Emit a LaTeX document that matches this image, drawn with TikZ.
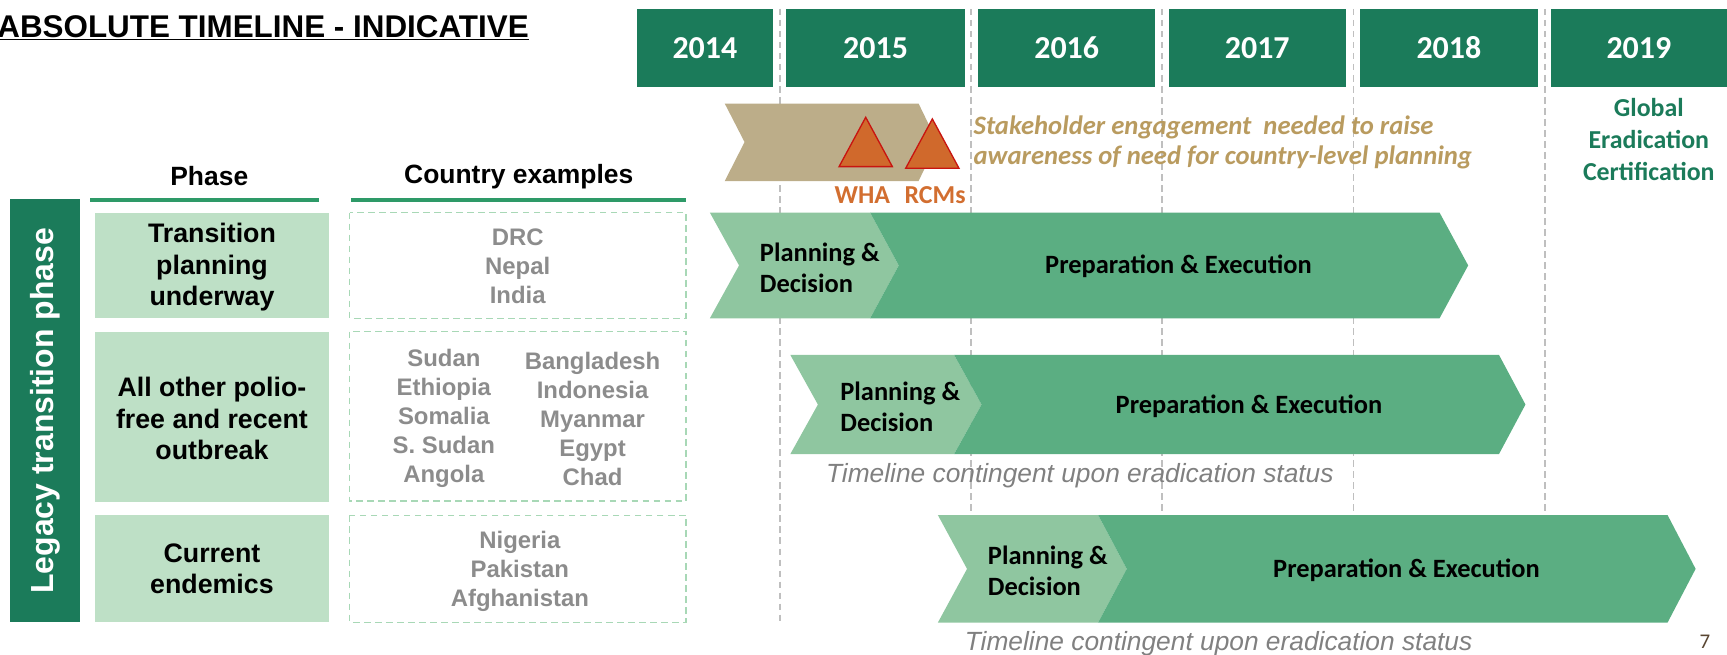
\documentclass[tikz,border=0pt]{standalone}
\usepackage{fontspec}
\setmainfont{Liberation Sans}
\newfontfamily\calfont{Carlito}
\newcommand\setfs[2]{\fontsize{#1}{#2}\selectfont}
\definecolor{dkgreen}{RGB}{27,123,90}
\definecolor{hdrgreen}{RGB}{46,154,104}
\definecolor{phasefill}{RGB}{190,224,198}
\definecolor{ctryborder}{RGB}{168,216,182}
\definecolor{chevlight}{RGB}{143,198,160}
\definecolor{chevdark}{RGB}{91,174,130}
\definecolor{tanfill}{RGB}{188,173,137}
\definecolor{trifill}{RGB}{208,105,44}
\definecolor{tristroke}{RGB}{200,20,16}
\definecolor{orangetxt}{RGB}{210,110,48}
\definecolor{goldtxt}{RGB}{185,155,95}
\definecolor{ctrygray}{RGB}{140,140,140}
\definecolor{italgray}{RGB}{128,128,128}
\definecolor{vlinegray}{RGB}{191,191,191}
\definecolor{pagebrown}{RGB}{89,70,50}
\begin{document}
\begin{tikzpicture}[x=1pt,y=-1pt,
  every node/.style={inner sep=0pt, outer sep=0pt},
  year/.style={text=white, font=\calfont\bfseries\setfs{29}{34}},
  vline/.style={draw=vlinegray, line width=1.4pt, dash pattern=on 6pt off 4pt},
  hdr/.style={font=\bfseries\setfs{24}{28}},
  hdrbar/.style={draw=hdrgreen, line width=3.2pt},
  phasebox/.style={fill=phasefill},
  phasetxt/.style={font=\bfseries\setfs{24.3}{28.6}, align=center},
  ctrytxt/.style={text=ctrygray, font=\bfseries\setfs{21.7}{26.3}, align=center},
  ctrybox/.style={draw=ctryborder, line width=1.2pt, dash pattern=on 6pt off 4pt},
  pdtxt/.style={font=\calfont\bfseries\setfs{24}{28.5}, align=left, anchor=west},
  petxt/.style={font=\calfont\bfseries\setfs{24}{28}},
  italtxt/.style={text=italgray, font=\itshape\setfs{23.9}{28}, anchor=west},
  tri/.style={fill=trifill, draw=tristroke, line width=1.2pt, line join=miter},
  milestone/.style={text=orangetxt, font=\calfont\bfseries\setfs{23.5}{26}}
]
\useasboundingbox (0,0) rectangle (1568,594);

% title
\node[font=\bfseries\setfs{28.5}{34}, anchor=base east] (title) at (480,34) {\underline{ABSOLUTE TIMELINE - INDICATIVE}};

% dashed year separators
\foreach \xx in {708,881.5,1055,1229,1402.5}
  \draw[vline] (\xx,8) -- (\xx,565);

% year boxes
\path[fill=dkgreen] (578,8) rectangle (702,79) node[midway, year] (y14) {2014};
\path[fill=dkgreen] (714,8) rectangle (876,79) node[midway, year] (y15) {2015};
\path[fill=dkgreen] (888,8) rectangle (1049,79) node[midway, year] (y16) {2016};
\path[fill=dkgreen] (1061,8) rectangle (1222,79) node[midway, year] (y17) {2017};
\path[fill=dkgreen] (1235,8) rectangle (1396,79) node[midway, year] (y18) {2018};
\path[fill=dkgreen] (1408,8) rectangle (1568,79) node[midway, year] (y19) {2019};

% stakeholder chevron
\fill[tanfill] (658,94) -- (834,94) -- (851,129) -- (834,164.4) -- (658,164.4) -- (676,129) -- cycle;
\draw[tri] (786,106.5) -- (810.2,151.3) -- (761.8,151.3) -- cycle;
\draw[tri] (846.5,108) -- (870.7,152.8) -- (822.3,152.8) -- cycle;
\node[milestone] (wha) at (783,177) {WHA};
\node[milestone] (rcm) at (849,177) {RCMs};
\node[text=goldtxt, font=\calfont\bfseries\itshape\setfs{24.2}{27.5}, align=left, anchor=west] (stake) at (884,129.5)
  {Stakeholder engagement~ needed to raise\\awareness of need for country-level planning};
\node[text=dkgreen, font=\calfont\bfseries\setfs{23.5}{29}, align=center] (cert) at (1497,127)
  {Global\\Eradication\\Certification};

% headers
\node[hdr] (hphase) at (190,160) {Phase};
\node[hdr] (hctry) at (471,160) {Country examples};
\draw[hdrbar] (82,181.5) -- (290,181.5);
\draw[hdrbar] (319,181.5) -- (623,181.5);

% legacy bar
\fill[dkgreen] (9,181) rectangle (72.6,565);
\node[rotate=90, text=white, font=\bfseries\setfs{29}{34}] (legacy) at (41,373) {Legacy transition phase};

% phase boxes
\path[phasebox] (86.5,193) rectangle (298.4,289) node[midway, phasetxt, yshift=-1.5pt] (p1) {Transition\\planning\\underway};
\path[phasebox] (86.5,301) rectangle (298.4,456) node[midway, phasetxt, yshift=-1.5pt] (p2) {All other polio-\\free and recent\\outbreak};
\path[phasebox] (86.5,468) rectangle (298.4,565) node[midway, phasetxt] (p3) {Current\\endemics};

% country boxes
\draw[ctrybox] (317.4,193) rectangle (622.9,289);
\draw[ctrybox] (317.4,301) rectangle (622.9,455);
\draw[ctrybox] (317.4,468) rectangle (622.9,565);
\node[ctrytxt] (c1) at (470,241.5) {DRC\\Nepal\\India};
\node[ctrytxt] (c2a) at (403,380) {Sudan\\Ethiopia\\Somalia\\S. Sudan\\Angola};
\node[ctrytxt] (c2b) at (538,380) {Bangladesh\\Indonesia\\Myanmar\\Egypt\\Chad};
\node[ctrytxt] (c3) at (472,518.5) {Nigeria\\Pakistan\\Afghanistan};

% row 1 chevrons
\fill[chevlight] (644.5,193) -- (790,193) -- (816,241) -- (790,289) -- (644.5,289) -- (671,241) -- cycle;
\fill[chevdark] (790,193) -- (1307,193) -- (1333,241) -- (1307,289) -- (790,289) -- (816,241) -- cycle;
\node[pdtxt] (pd1) at (690,243) {Planning \&\\Decision};
\node[petxt] (pe1) at (1070,242) {Preparation \& Execution};

% row 2 chevrons
\fill[chevlight] (717.6,322.3) -- (866.3,322.3) -- (891.2,367.3) -- (866.3,412.2) -- (717.6,412.2) -- (742.6,367.3) -- cycle;
\fill[chevdark] (866.3,322.3) -- (1361,322.3) -- (1385,367.3) -- (1361,412.2) -- (866.3,412.2) -- (891.2,367.3) -- cycle;
\node[pdtxt] (pd2) at (763,369.5) {Planning \&\\Decision};
\node[petxt] (pe2) at (1134,368.5) {Preparation \& Execution};
\node[italtxt] (tl2) at (750,432) {Timeline contingent upon eradication status};

% row 3 chevrons
\fill[chevlight] (851.5,467.6) -- (997,467.6) -- (1023,516.5) -- (997,565.3) -- (851.5,565.3) -- (878,516.5) -- cycle;
\fill[chevdark] (997,467.6) -- (1514,467.6) -- (1539.5,516.5) -- (1514,565.3) -- (997,565.3) -- (1023,516.5) -- cycle;
\node[pdtxt] (pd3) at (897,518) {Planning \&\\Decision};
\node[petxt] (pe3) at (1277,517.5) {Preparation \& Execution};
\node[italtxt] (tl3) at (876,584) {Timeline contingent upon eradication status};

% page number
\node[text=pagebrown, font=\calfont\setfs{19}{22}] (pg) at (1548,583) {7};
\end{tikzpicture}
\end{document}
